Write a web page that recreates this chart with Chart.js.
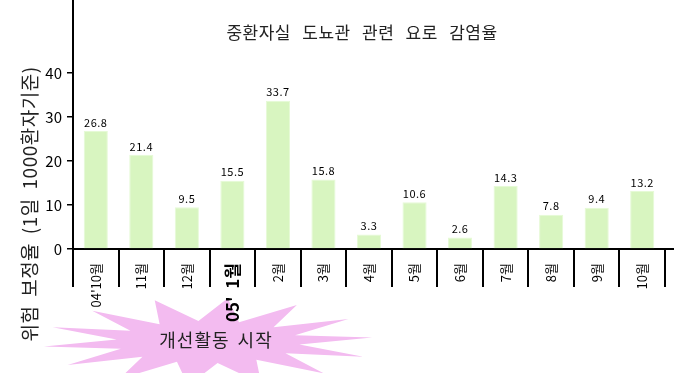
<!DOCTYPE html>
<html>
<head>
<meta charset="utf-8">
<script src="https://cdn.jsdelivr.net/npm/chart.js@4/dist/chart.umd.min.js"></script>
<style>
  html, body { margin: 0; padding: 0; background: #fff; }
  #wrap { width: 674px; height: 373px; }
</style>
</head>
<body>
<div id="wrap"><canvas id="grafico"></canvas></div>
<script>
// dados do grafico
var meses = ["04'10월", "11월", "12월", "05'  1월", "2월", "3월", "4월", "5월", "6월", "7월", "8월", "9월", "10월"];
var taxas = [26.8, 21.4, 9.5, 15.5, 33.7, 15.8, 3.3, 10.6, 2.6, 14.3, 7.8, 9.4, 13.2];
var ticksY = [0, 10, 20, 30, 40];
var titulo = "중환자실 도뇨관 관련 요로 감염율";
var tituloY = "위험 보정율 (1일 1000환자기준)";
var textoEstrela = "개선활동 시작";

var fonte = "'Noto Sans CJK KR', 'Noto Sans', sans-serif";

// desenha titulo, titulo do eixo y, rotulos e a estrela
const extras = {
  id: 'extras',
  beforeDraw(chart) {
    const ctx = chart.ctx;
    ctx.save();
    // estrela rosa
    const cx = 208, cy = 342, n = 14;
    ctx.beginPath();
    for (let i = 0; i < n * 2; i++) {
      const ang = -Math.PI / 2 + i * Math.PI / n + 0.12;
      const rx = i % 2 === 0 ? 165 : 92;
      const ry = i % 2 === 0 ? 44 : 21;
      const px = cx + Math.cos(ang) * rx;
      const py = cy + Math.sin(ang) * ry;
      if (i === 0) ctx.moveTo(px, py); else ctx.lineTo(px, py);
    }
    ctx.closePath();
    ctx.fillStyle = '#f3bbf0';
    ctx.fill();
    ctx.fillStyle = '#222';
    ctx.font = '18px ' + fonte;
    ctx.letterSpacing = '1px';
    ctx.wordSpacing = '3px';
    ctx.textAlign = 'center';
    ctx.textBaseline = 'middle';
    ctx.fillText(textoEstrela, 216, 340);
    ctx.restore();
  },
  afterDraw(chart) {
    const ctx = chart.ctx;
    const a = chart.chartArea;
    ctx.save();
    // titulo
    ctx.fillStyle = '#222';
    ctx.font = '17px ' + fonte;
    ctx.letterSpacing = '0.5px';
    ctx.wordSpacing = '7px';
    ctx.textAlign = 'center';
    ctx.textBaseline = 'middle';
    ctx.fillText(titulo, 362, 33);
    // titulo eixo y
    ctx.letterSpacing = '0.5px';
    ctx.wordSpacing = '4px';
    ctx.translate(30, 204);
    ctx.rotate(-Math.PI / 2);
    ctx.font = '19px ' + fonte;
    ctx.fillText(tituloY, 0, 0);
    ctx.restore();

    // prolonga o eixo x
    ctx.save();
    ctx.strokeStyle = '#000';
    ctx.lineWidth = 2;
    ctx.beginPath();
    ctx.moveTo(a.right, a.bottom);
    ctx.lineTo(chart.width, a.bottom);
    ctx.stroke();
    ctx.restore();
  },
  afterDatasetsDraw(chart) {
    const ctx = chart.ctx;
    ctx.save();
    ctx.fillStyle = '#000';
    ctx.font = '11px ' + fonte;
    ctx.letterSpacing = '0.5px';
    ctx.textAlign = 'center';
    ctx.textBaseline = 'bottom';
    chart.getDatasetMeta(0).data.forEach(function (bar, i) {
      ctx.fillText(taxas[i].toFixed(1), bar.x, bar.y - 3);
    });
    ctx.restore();
  }
};

const config = {
  type: 'bar',
  data: {
    labels: meses,
    datasets: [{
      data: taxas,
      backgroundColor: '#d8f5c0',
      borderColor: '#e6fad6',
      borderWidth: 1,
      barPercentage: 0.53,
      categoryPercentage: 1
    }]
  },
  options: {
    responsive: true,
    maintainAspectRatio: false,
    animation: false,
    layout: { padding: { top: 0, right: 9, bottom: 0, left: 0 } },
    plugins: {
      legend: { display: false },
      tooltip: { enabled: false }
    },
    scales: {
      x: {
        grid: {
          offset: true,
          drawOnChartArea: false,
          tickLength: 38,
          color: '#000',
          lineWidth: 2
        },
        border: { color: '#000', width: 2 },
        ticks: {
          autoSkip: false,
          minRotation: 90,
          maxRotation: 90,
          padding: -24,
          color: '#000',
          font: function (c) {
            return c.index === 3
              ? { family: fonte, size: 17, weight: 'bold' }
              : { family: fonte, size: 13 };
          }
        },
        afterFit: function (s) {
          s.height = 124;
          s.paddingLeft = 0;
          s.paddingRight = 0;
        }
      },
      y: {
        min: 0,
        max: 56.6,
        grid: {
          drawOnChartArea: false,
          tickLength: 6,
          color: '#000',
          lineWidth: 1.5
        },
        border: { color: '#000', width: 2 },
        ticks: {
          stepSize: 10,
          padding: 5,
          color: '#000',
          font: { family: fonte, size: 15 }
        },
        afterBuildTicks: function (s) {
          s.ticks = ticksY.map(function (v) { return { value: v }; });
        },
        afterFit: function (s) {
          s.width = 73;
          s.paddingTop = 0;
          s.paddingBottom = 0;
        }
      }
    }
  },
  plugins: [extras]
};

var grafico = new Chart(document.getElementById("grafico"), config);
</script>
</body>
</html>
